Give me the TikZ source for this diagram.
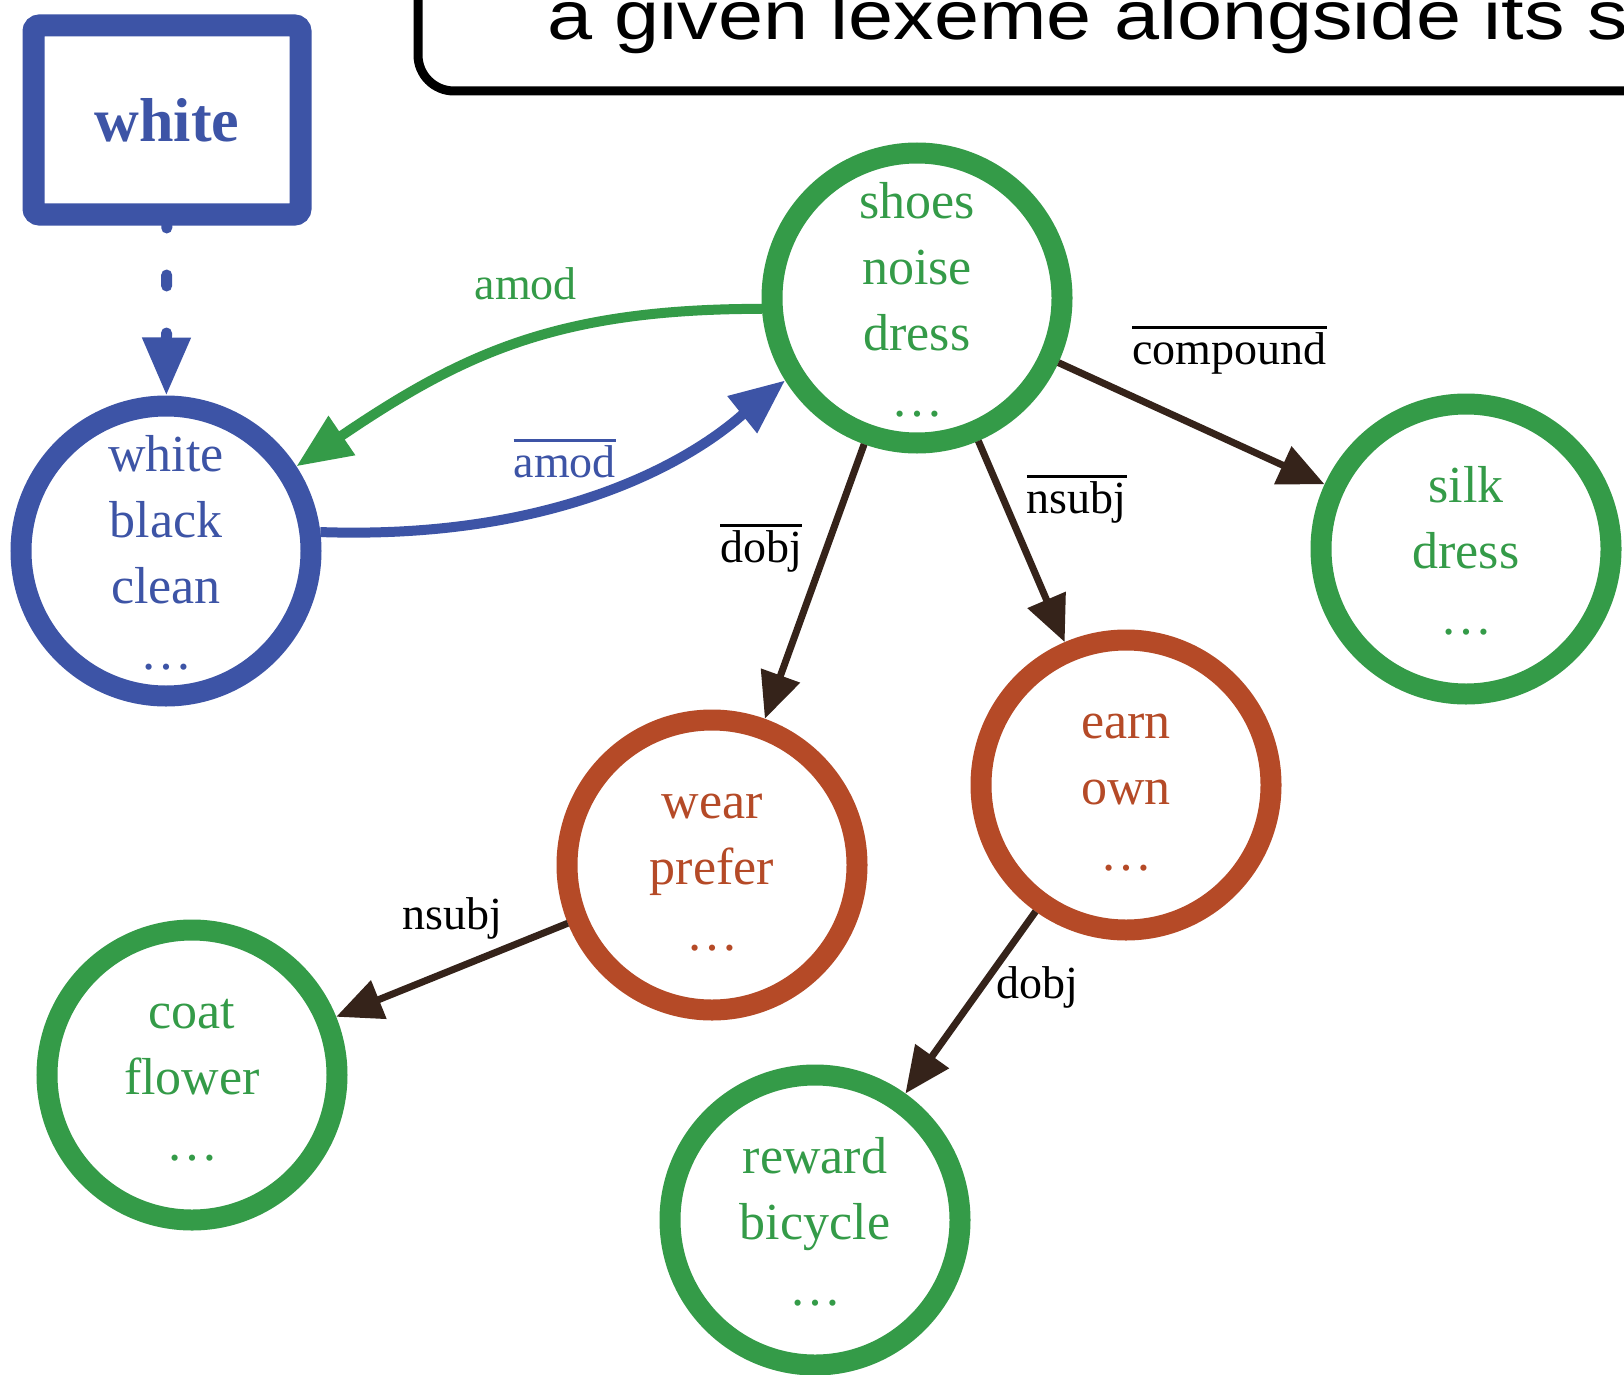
\documentclass[tikz,border=0pt]{standalone}
\usepackage{fontspec}
\setmainfont{Liberation Serif}
\newfontfamily\notefont{Liberation Sans}
\usetikzlibrary{arrows.meta}
\definecolor{lexgreen}{HTML}{349B48}
\definecolor{lexblue}{HTML}{3D54A6}
\definecolor{lexrust}{HTML}{B54A27}
\definecolor{depbrown}{HTML}{35231A}
% label with a bar over it
\newcommand{\barred}[1]{\vbox{\hrule height 2.6pt\kern 4pt\hbox{#1}}}
% fixed height for the first line of a word set
\newcommand{\wsrule}{\rule{0pt}{40pt}}

\begin{document}
\begin{tikzpicture}[
  x=1pt, y=-1pt,
  wordset/.style={
    circle,
    draw=#1,
    text=#1,
    line width=21pt,
    minimum size=290pt,
    inner sep=0pt,
    align=center,
    font=\fontsize{52}{66}\selectfont
  },
  dep/.style={
    draw=depbrown,
    line width=7pt,
    -{Triangle[length=46pt,width=40pt]}
  },
  rel/.style={
    draw=#1,
    line width=10pt,
    -{Triangle[length=55pt,width=45pt]}
  },
  lbl/.style={
    inner sep=3pt,
    text=black,
    font=\fontsize{46}{50}\selectfont
  }
]
  \clip (0,0) rectangle (1624,1375);
  \fill[white] (0,0) rectangle (1624,1375);

  % --- sketched caption box, cut by the top edge ---
  \draw[line width=9pt, line cap=round, rounded corners=36pt] (418,-80) -- (418,91) -- (1720,91);
  \node[anchor=base west, inner sep=0pt, font=\notefont\fontsize{81}{82}\selectfont] (caption) at (547,40)
    {\scalebox{1}[0.85]{a given lexeme alongside its sy}};

  % --- the lexeme and its word sets ---
  \node[draw=lexblue, line width=22pt, rounded corners=6pt, minimum width=267pt, minimum height=189pt,
        text=lexblue, font=\bfseries\fontsize{62}{70}\selectfont] (lexeme) at (167,120) {white};

  \node[wordset=lexblue] (adjs) at (166,551) {\wsrule white\\black\\clean\\\dots};
  \node[wordset=lexgreen] (nouns) at (917,298) {\wsrule shoes\\noise\\dress\\\dots};
  \node[wordset=lexgreen] (compounds) at (1466,549) {\wsrule silk\\dress\\\dots};
  \node[wordset=lexrust] (subjverbs) at (1126,785) {\wsrule earn\\own\\\dots};
  \node[wordset=lexrust] (objverbs) at (712,865) {\wsrule wear\\prefer\\\dots};
  \node[wordset=lexgreen] (subjnouns) at (192,1075) {\wsrule coat\\flower\\\dots};
  \node[wordset=lexgreen] (objnouns) at (815,1220) {\wsrule reward\\bicycle\\\dots};

  % --- connectors ---
  \draw[lexblue, line width=11pt, line cap=round, dash pattern=on 11pt off 47pt, dash phase=8.5pt,
        -{Triangle[length=58pt,width=46pt]}] (lexeme) -- (adjs);

  \draw[rel=lexgreen] (nouns.184) .. controls +(-203,0) and +(168,-114) .. (adjs.33)
    node[lbl, pos=.4, text=lexgreen, xshift=-33pt, yshift=48pt] {amod};
  \draw[rel=lexblue] (adjs.7) .. controls +(290,10) and +(-50,40) .. (nouns.212)
    node[lbl, pos=.4, text=lexblue, xshift=-30pt, yshift=36pt] {\barred{amod}};

  \draw[dep] (nouns) -- (objverbs)
    node[lbl, pos=.38, anchor=east, xshift=-18pt] {\barred{dobj}};
  \draw[dep] (nouns) -- (subjverbs)
    node[lbl, pos=.29, anchor=west, xshift=17pt] {\barred{nsubj}};
  \draw[dep] (nouns) -- (compounds)
    node[lbl, pos=.28, anchor=south west, xshift=-7pt, yshift=16pt] {\barred{compound}};
  \draw[dep] (objverbs) -- (subjnouns)
    node[lbl, pos=.29, anchor=south east, xshift=8pt, yshift=5pt] {nsubj};
  \draw[dep] (subjverbs) -- (objnouns)
    node[lbl, pos=.415, anchor=west, xshift=8pt] {dobj};

\end{tikzpicture}
\end{document}
